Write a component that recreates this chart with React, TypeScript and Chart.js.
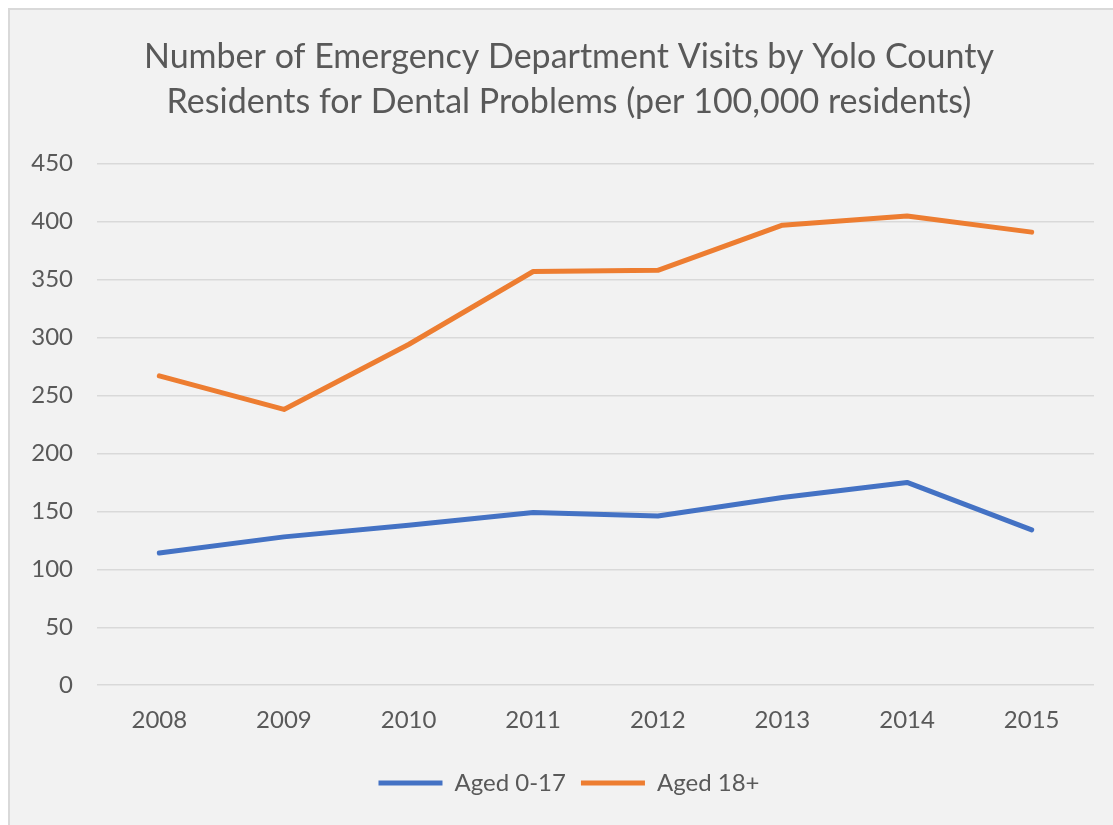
import React, { useEffect, useRef } from "react";
import { Chart, registerables } from "chart.js";

Chart.register(...registerables);

const years = ["2008", "2009", "2010", "2011", "2012", "2013", "2014", "2015"];
const aged0to17 = [114, 128, 138, 149, 146, 162, 175, 134];
const aged18plus = [267, 238, 294, 357, 358, 397, 405, 391];
const titleLines = [
  "Number of Emergency Department Visits by Yolo County",
  "Residents for Dental Problems (per 100,000 residents)",
];

const shiftBlocks = {
  id: "shiftBlocks",
  afterLayout(chart: any) {
    if (chart.titleBlock) chart.titleBlock.left += 34;
    if (chart.legend) chart.legend.left += 34;
  },
};

export default function App() {
  const ref = useRef<HTMLCanvasElement | null>(null);

  useEffect(() => {
    document.body.style.margin = "8px 0 0 8px";
    document.body.style.overflow = "hidden";
    const font = "Lato, 'Open Sans', sans-serif";
    const chart = new Chart(ref.current!, {
      type: "line",
      data: {
        labels: years,
        datasets: [
          {
            label: "Aged 0-17",
            data: aged0to17,
            borderColor: "#4472c4",
            backgroundColor: "#4472c4",
            borderWidth: 5,
            pointRadius: 0,
            tension: 0,
            borderCapStyle: "round",
            borderJoinStyle: "round",
          },
          {
            label: "Aged 18+",
            data: aged18plus,
            borderColor: "#ed7d31",
            backgroundColor: "#ed7d31",
            borderWidth: 5,
            pointRadius: 0,
            tension: 0,
            borderCapStyle: "round",
            borderJoinStyle: "round",
          },
        ],
      },
      plugins: [shiftBlocks],
      options: {
        animation: false,
        responsive: false,
        maintainAspectRatio: false,
        layout: { padding: { left: 0, right: 19, top: 0, bottom: 20 } },
        plugins: {
          title: {
            display: true,
            text: titleLines,
            color: "#595959",
            font: { family: font, size: 34, weight: "normal", lineHeight: 1.32 },
            padding: { top: 25, bottom: 39 },
          },
          legend: {
            position: "bottom",
            labels: {
              usePointStyle: true,
              pointStyle: "line",
              pointStyleWidth: 64,
              color: "#595959",
              font: { family: font, size: 24 },
              padding: 15,
            },
          },
          tooltip: { enabled: false },
        },
        scales: {
          x: {
            offset: true,
            grid: { display: false, drawTicks: false },
            border: { display: false },
            ticks: {
              color: "#595959",
              font: { family: font, size: 24 },
              padding: 21,
            },
          },
          y: {
            min: 0,
            max: 450,
            grid: { color: "#d9d9d9", lineWidth: 1.5, drawTicks: false },
            border: { display: false },
            ticks: {
              stepSize: 50,
              color: "#595959",
              font: { family: font, size: 24 },
              padding: 24,
            },
            afterFit: (axis: any) => {
              axis.width = 87;
            },
          },
        },
      },
    });
    return () => chart.destroy();
  }, []);

  return (
    <div
      style={{
        position: "relative",
        width: 1105,
        height: 817,
        boxSizing: "border-box",
        background: "#f2f2f2",
        borderLeft: "2px solid #d9d9d9",
        borderTop: "2px solid #d9d9d9",
      }}
    >
      <canvas
        ref={ref}
        width={1103}
        height={815}
        style={{ position: "absolute", left: 0, top: 0, width: 1103, height: 815 }}
      />
    </div>
  );
}
